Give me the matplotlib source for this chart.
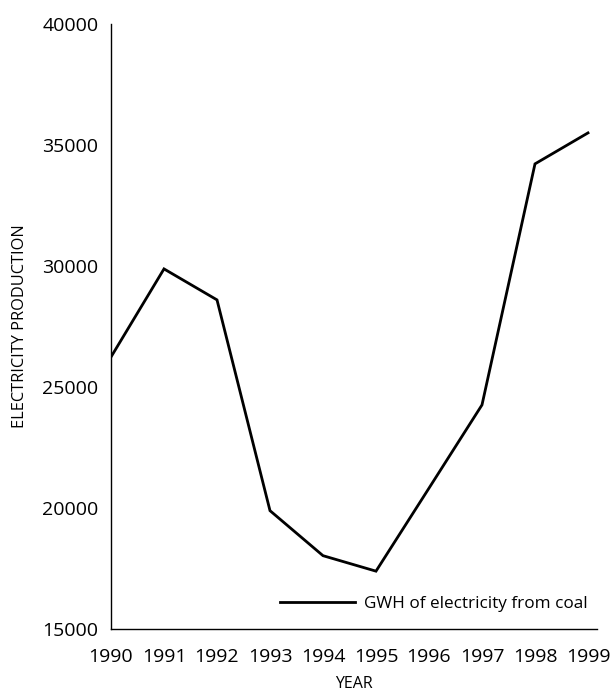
import matplotlib
matplotlib.use("Agg")
import matplotlib.pyplot as plt

# data
years = [1990, 1991, 1992, 1993, 1994, 1995, 1996, 1997, 1998, 1999]
coal_gwh = [26240, 29880, 28600, 19890, 18030, 17390, 20820, 24260, 34220, 35500]
y_ticks = [15000, 20000, 25000, 30000, 35000, 40000]

plt.rcParams["font.family"] = ["Open Sans", "DejaVu Sans"]

fig = plt.figure(figsize=(6.15, 6.93), dpi=100)
ax = fig.add_axes([111 / 615, 1 - 629 / 693, 486 / 615, 605 / 693])

ax.plot(years, coal_gwh, color="black", lw=2.0, solid_joinstyle="miter",
        label="GWH of electricity from coal")

ax.set_xlim(1990, 1999.17)
ax.set_ylim(15000, 40000)
ax.set_xticks(years)
ax.set_yticks(y_ticks)
ax.tick_params(axis="x", length=0, pad=14, labelsize=14)
ax.tick_params(axis="y", length=0, pad=9, labelsize=14)

for s in ("top", "right"):
    ax.spines[s].set_visible(False)
for s in ("left", "bottom"):
    ax.spines[s].set_linewidth(1.0)

ax.set_xlabel("YEAR", fontsize=11.5, labelpad=7)
ax.set_ylabel("ELECTRICITY PRODUCTION", fontsize=11.8, labelpad=10)

ax.legend(loc="center left", bbox_to_anchor=(162 / 486, 25 / 605),
          frameon=False, fontsize=12.3, handlelength=4.4, handletextpad=0.5,
          borderaxespad=0)

fig.savefig("out.png", dpi=100, facecolor="white")
